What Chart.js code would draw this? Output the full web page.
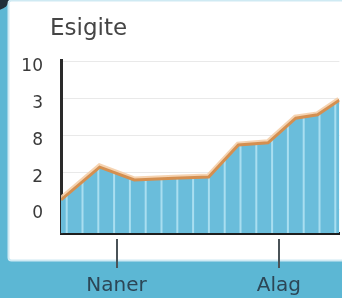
<!DOCTYPE html>
<html>
<head>
<meta charset="utf-8">
<script src="https://cdn.jsdelivr.net/npm/chart.js@4"></script>
<style>
  html, body { margin: 0; padding: 0; background: #5cb7d4; }
  #wrap { position: relative; width: 342px; height: 298px; }
  #title {
    position: absolute; left: 50px; top: 14px;
    font-family: 'DejaVu Sans', sans-serif; font-size: 23px; line-height: normal;
    color: #454545;
  }
</style>
</head>
<body>
<div id="wrap">
  <canvas id="chart" width="342" height="298"></canvas>
  <div id="title"></div>
</div>
<script>
// data
const xValues = [0, 2.5, 4.74, 7.3, 9.55, 11.47, 13.39, 15.18, 16.59, 18];
const yValues = [0.25, 1.14, 0.79, 0.84, 0.87, 1.74, 1.80, 2.47, 2.56, 2.96];
const yTickValues = [0, 1, 2, 3, 4];
const yTickLabels = ['0', '2', '8', '3', '10'];
const xTickValues = [3.59, 14.09];
const xTickLabels = ['Naner', 'Alag'];
const chartTitle = 'Esigite';

document.getElementById('title').textContent = chartTitle;

const points = xValues.map((x, i) => ({ x: x, y: yValues[i] }));

// striped fill
const makeStripes = () => {
    const pc = document.createElement('canvas');
    pc.width = 158;
    pc.height = 8;
    const p = pc.getContext('2d');
    p.fillStyle = '#6abddb';
    p.fillRect(0, 0, pc.width, pc.height);
    p.fillStyle = '#a9def0';
    for (let k = 0; k < 10; k++) {
        p.fillRect(3.5 + 15.8 * k - 1, 0, 2, pc.height);
    }
    return p.createPattern(pc, 'repeat');
};

// card + background behind the chart, tick marks after
const cardPlugin = {
    id: 'card',
    beforeDraw(chart) {
        const c = chart.ctx;
        const w = chart.width, h = chart.height;
        c.save();
        c.fillStyle = '#5cb7d4';
        c.fillRect(0, 0, w, h);
        c.fillStyle = '#1f2f3a';
        c.beginPath();
        c.arc(-3, -3, 13, 0, Math.PI * 2);
        c.fill();
        c.fillStyle = '#ffffff';
        c.strokeStyle = '#cfeaf3';
        c.lineWidth = 2;
        c.beginPath();
        c.roundRect(8.5, 0.5, w + 10, chart.chartArea.bottom + 27, 3);
        c.fill();
        c.stroke();
        c.restore();
    },
    afterDraw(chart) {
        const xs = chart.scales.x;
        const c = chart.ctx;
        const b = chart.chartArea.bottom;
        c.save();
        c.strokeStyle = '#4a5257';
        c.lineWidth = 2;
        xs.ticks.forEach(t => {
            const px = Math.round(xs.getPixelForValue(t.value));
            c.beginPath();
            c.moveTo(px, b + 6);
            c.lineTo(px, b + 35);
            c.stroke();
        });
        c.restore();
    }
};

const ctx = document.getElementById('chart').getContext('2d');
const myChart = new Chart(ctx, {
    type: 'line',
    data: {
        datasets: [{
            data: points,
            borderColor: '#d48f50',
            borderWidth: 3,
            backgroundColor: makeStripes(),
            fill: 'start',
            pointRadius: 0,
            tension: 0,
            order: 0,
        }, {
            data: points,
            borderColor: 'rgba(244, 206, 168, 0.9)',
            borderWidth: 7,
            fill: false,
            pointRadius: 0,
            tension: 0,
            order: 1,
        }],
    },
    options: {
        responsive: false,
        animation: false,
        layout: { padding: { left: 0, right: 0, top: 60, bottom: 0 } },
        plugins: {
            legend: { display: false },
            tooltip: { enabled: false },
        },
        scales: {
            x: {
                type: 'linear',
                min: 0,
                max: 18,
                afterBuildTicks: s => { s.ticks = xTickValues.map(v => ({ value: v })); },
                afterFit: s => { s.height = 65; },
                ticks: {
                    autoSkip: false,
                    maxRotation: 0,
                    padding: 41,
                    color: '#2c4656',
                    font: { family: 'DejaVu Sans', size: 20 },
                    callback: (v, i) => xTickLabels[i],
                },
                grid: { display: false, drawTicks: false },
                border: { color: '#1e1e1e', width: 3 },
            },
            y: {
                type: 'linear',
                min: -0.65,
                max: 4.05,
                afterBuildTicks: s => { s.ticks = yTickValues.map(v => ({ value: v })); },
                afterFit: s => { s.width = 61; },
                ticks: {
                    padding: 18,
                    labelOffset: 5,
                    color: '#3a3a3a',
                    font: { family: 'DejaVu Sans', size: 17 },
                    callback: (v, i) => yTickLabels[i],
                },
                grid: { color: '#e9e9e9', lineWidth: 1, drawTicks: false },
                border: { color: '#2a2a2a', width: 3 },
            },
        },
    },
    plugins: [cardPlugin],
});
</script>
</body>
</html>
